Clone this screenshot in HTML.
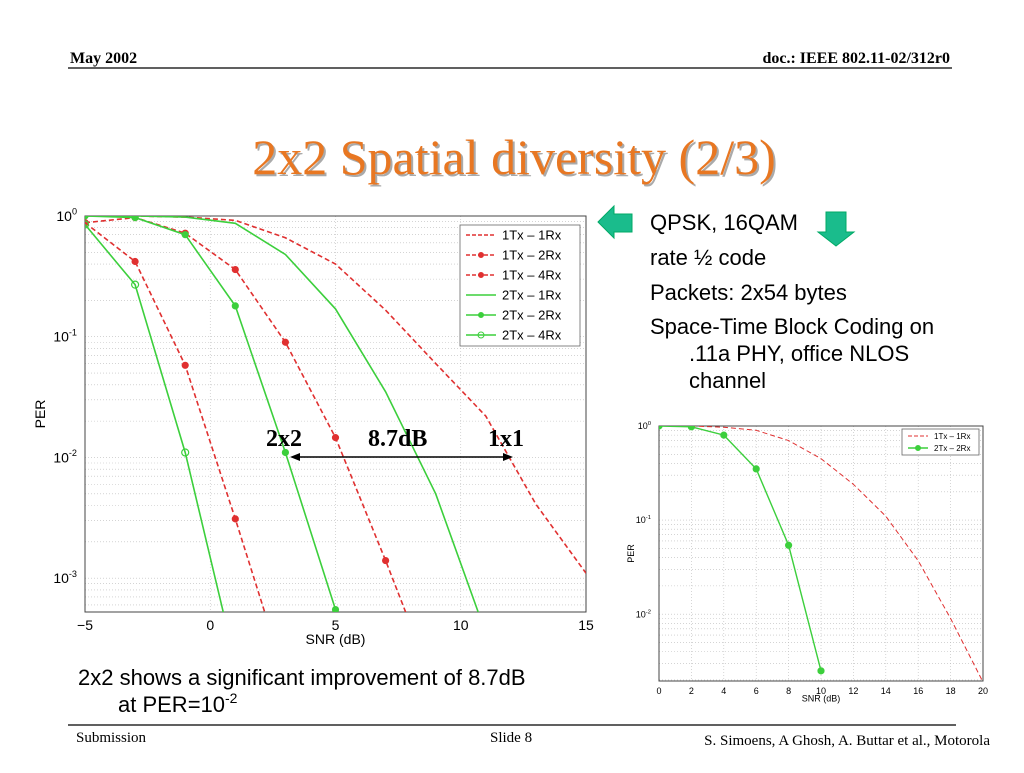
<!DOCTYPE html>
<html><head><meta charset="utf-8"><style>
body{margin:0;background:#fff;}
svg text{font-family:"Liberation Sans",sans-serif;}
</style></head><body>
<svg id="s" width="1024" height="768" xmlns="http://www.w3.org/2000/svg">
<text x="70" y="63" font-size="16" font-weight="bold" style="font-family:'Liberation Serif',serif">May 2002</text>
<text x="950" y="63" font-size="16" font-weight="bold" text-anchor="end" style="font-family:'Liberation Serif',serif">doc.: IEEE 802.11-02/312r0</text>
<line x1="68" y1="68" x2="952" y2="68" stroke="#000" stroke-width="1.2"/>
<text x="514" y="174" font-size="50" text-anchor="middle" fill="#aaa" style="font-family:'Liberation Serif',serif" transform="translate(2,2)">2x2 Spatial diversity (2/3)</text>
<text x="514" y="174" font-size="50" text-anchor="middle" fill="#e87722" style="font-family:'Liberation Serif',serif">2x2 Spatial diversity (2/3)</text>

<g id="main"></g>
<g id="small"></g>

<polygon points="598,222 614,206 614,214 632,214 632,232 614,232 614,238" fill="#1abc8c" stroke="#0a6" stroke-width="1"/>
<polygon points="826,212 846,212 846,232 854,232 836,246 818,232 826,232" fill="#1abc8c" stroke="#0a6" stroke-width="1"/>
<g font-size="22">
<text x="650" y="230">QPSK, 16QAM</text>
<text x="650" y="265">rate ½ code</text>
<text x="650" y="300">Packets: 2x54 bytes</text>
<text x="650" y="334">Space-Time Block Coding on</text>
<text x="689" y="361">.11a PHY, office NLOS</text>
<text x="689" y="388">channel</text>
</g>
<g font-size="22">
<text x="78" y="685">2x2 shows a significant improvement of 8.7dB</text>
<text x="118" y="712">at PER=10<tspan font-size="14" dy="-9">-2</tspan></text>
</g>
<line x1="68" y1="725" x2="956" y2="725" stroke="#000" stroke-width="1.2"/>
<text x="76" y="742" font-size="15" style="font-family:'Liberation Serif',serif">Submission</text>
<text x="490" y="742" font-size="15" style="font-family:'Liberation Serif',serif">Slide 8</text>
<text x="990" y="745" font-size="15" text-anchor="end" style="font-family:'Liberation Serif',serif">S. Simoens, A Ghosh, A. Buttar et al., Motorola</text>
</svg>
<script>
const NS="http://www.w3.org/2000/svg";
// main chart data
const mainX=[-5,-3,-1,1,3,5,7,9,11,13,15];
const per1Tx1Rx=[1,1,0.98,0.92,0.66,0.40,0.166,0.06,0.022,0.0041,0.0011];
const per1Tx2Rx=[0.88,0.97,0.72,0.36,0.09,0.0146,0.0014,0.00012];
const per1Tx4Rx=[0.88,0.42,0.058,0.0031,0.00015];
const per2Tx1Rx=[1,1,0.98,0.87,0.48,0.17,0.035,0.005,0.00035];
const per2Tx2Rx=[1,0.97,0.7,0.18,0.011,0.00055];
const per2Tx4Rx=[0.85,0.27,0.011,0.0002];
const mainXTicks=[-5,0,5,10,15];
const mainYTicks=[0,-1,-2,-3];
// small chart data
const smallX=[0,2,4,6,8,10,12,14,16,18,20];
const small1x1=[1,1,0.97,0.9,0.7,0.45,0.24,0.11,0.037,0.009,0.0019];
const small2x2=[1,0.98,0.8,0.35,0.054,0.0025];
const smallXTicks=[0,2,4,6,8,10,12,14,16,18,20];
const smallYTicks=[0,-1,-2];

function el(t,a,p){const e=document.createElementNS(NS,t);for(const k in a)e.setAttribute(k,a[k]);p.appendChild(e);return e;}

function chart(g,o){
  const sx=v=>o.x0+(v-o.xmin)/(o.xmax-o.xmin)*(o.x1-o.x0);
  const sy=v=>o.y0+(0-Math.log10(v))/(-o.lmin)*(o.y1-o.y0);
  const cid="clip"+o.id;
  const cp=el("clipPath",{id:cid},g);el("rect",{x:o.x0,y:o.y0,width:o.x1-o.x0,height:o.y1-o.y0},cp);
  const grid=el("g",{stroke:"#bbb","stroke-width":0.6,"stroke-dasharray":"1,2"},g);
  
  
  for(let d=0;d>o.lmin-1;d--){for(let m=1;m<10;m++){const v=m*Math.pow(10,d-1);const l=Math.log10(v);if(l<o.lmin||l>0)continue;const y=sy(v);el("line",{x1:o.x0,x2:o.x1,y1:y,y2:y},grid);}}
  o.xticks.forEach(t=>{el("line",{x1:sx(t),x2:sx(t),y1:o.y0,y2:o.y1},grid);});
  const ax=el("rect",{x:o.x0,y:o.y0,width:o.x1-o.x0,height:o.y1-o.y0,fill:"none",stroke:"#444","stroke-width":1},g);
  
  
  o.xticks.forEach(t=>{const tx=el("text",{x:sx(t),y:o.y1+o.fs+4,"font-size":o.fs,"text-anchor":"middle"},g);tx.textContent=t<0?"−"+(-t):t;
    
    });
  o.yticks.forEach(t=>{const y=sy(Math.pow(10,t));const tx=el("text",{x:o.x0-8,y:y+o.fs*0.35,"font-size":o.fs,"text-anchor":"end"},g);tx.textContent="10";const ts=el("tspan",{"font-size":o.fs*0.65,dy:-o.fs*0.45},tx);ts.textContent=t;
    
    });
  const xl=el("text",{x:(o.x0+o.x1)/2,y:o.y1+o.fs*2.3,"font-size":o.fs,"text-anchor":"middle"},g);xl.textContent="SNR (dB)";
  
  
  const yl=el("text",{x:0,y:0,"font-size":o.fs,"text-anchor":"middle",transform:`translate(${o.ylx},${(o.y0+o.y1)/2}) rotate(-90)`},g);yl.textContent="PER";
  
  
  const sg=el("g",{"clip-path":`url(#${cid})`},g);
  o.series.forEach(s=>{
    const pts=s.y.map((v,i)=>sx(o.xs[i])+","+sy(v)).join(" ");
    const pl=el("polyline",{points:pts,fill:"none",stroke:s.c,"stroke-width":s.w||1.6,"stroke-dasharray":s.dash?"5,3":"none"},sg);
    
    
    if(s.m){s.y.forEach((v,i)=>{const c=el("circle",{cx:sx(o.xs[i]),cy:sy(v),r:s.m=="o"?3.5:3,fill:s.m=="o"?"none":s.c,stroke:s.c,"stroke-width":1.2},sg);
      
      });}
  });
  const L=o.leg;const lg=el("g",{},g);
  
  
  el("rect",{x:L.x,y:L.y,width:L.w,height:L.h,fill:"#fff",stroke:"#666","stroke-width":0.8},lg);
  o.series.forEach((s,i)=>{const y=L.y+L.pad+i*L.dy;
    el("line",{x1:L.x+6,x2:L.x+6+L.ll,y1:y,y2:y,stroke:s.c,"stroke-width":s.w||1.4,"stroke-dasharray":s.dash?"4,2":"none"},lg);
    if(s.m)el("circle",{cx:L.x+6+L.ll/2,cy:y,r:s.m=="o"?3:2.5,fill:s.m=="o"?"none":s.c,stroke:s.c},lg);
    const t=el("text",{x:L.x+12+L.ll,y:y+L.fs*0.35,"font-size":L.fs},lg);t.textContent=s.n;
    
    });
}
chart(document.getElementById("main"),{id:"m",x0:85,x1:586,y0:216,y1:612,xmin:-5,xmax:15,lmin:-3.28,xs:mainX,xticks:mainXTicks,yticks:mainYTicks,fs:14,ylx:45,
 leg:{x:460,y:225,w:120,h:121,pad:10,dy:20,ll:30,fs:13},
 series:[{n:"1Tx – 1Rx",y:per1Tx1Rx,c:"#e03030",dash:1},{n:"1Tx – 2Rx",y:per1Tx2Rx,c:"#e03030",dash:1,m:"*"},{n:"1Tx – 4Rx",y:per1Tx4Rx,c:"#e03030",dash:1,m:"*"},
 {n:"2Tx – 1Rx",y:per2Tx1Rx,c:"#3ccf3c"},{n:"2Tx – 2Rx",y:per2Tx2Rx,c:"#3ccf3c",m:"*"},{n:"2Tx – 4Rx",y:per2Tx4Rx,c:"#3ccf3c",m:"o"}]});
chart(document.getElementById("small"),{id:"s",x0:659,x1:983,y0:426,y1:681,xmin:0,xmax:20,lmin:-2.71,xs:smallX,xticks:smallXTicks,yticks:smallYTicks,fs:9,ylx:634,
 leg:{x:902,y:429,w:77,h:26,pad:7,dy:12,ll:20,fs:8},
 series:[{n:"1Tx – 1Rx",y:small1x1,c:"#e03030",dash:1,w:1},{n:"2Tx – 2Rx",y:small2x2,c:"#3ccf3c",m:"*",w:1.4}]});
// annotations
const s=document.getElementById("s");
const ann=el("g",{},s);


el("line",{x1:296,x2:507,y1:457,y2:457,stroke:"#000","stroke-width":1.5},ann);
el("polygon",{points:"290,457 300,453 300,461",fill:"#000"},ann);
el("polygon",{points:"513,457 503,453 503,461",fill:"#000"},ann);
[["2x2",266],["8.7dB",368],["1x1",488]].forEach(a=>{const t=el("text",{x:a[1],y:446,"font-size":24,"font-weight":"bold",style:"font-family:'Liberation Serif',serif"},ann);t.textContent=a[0];
 
 });
</script>
</body></html>
